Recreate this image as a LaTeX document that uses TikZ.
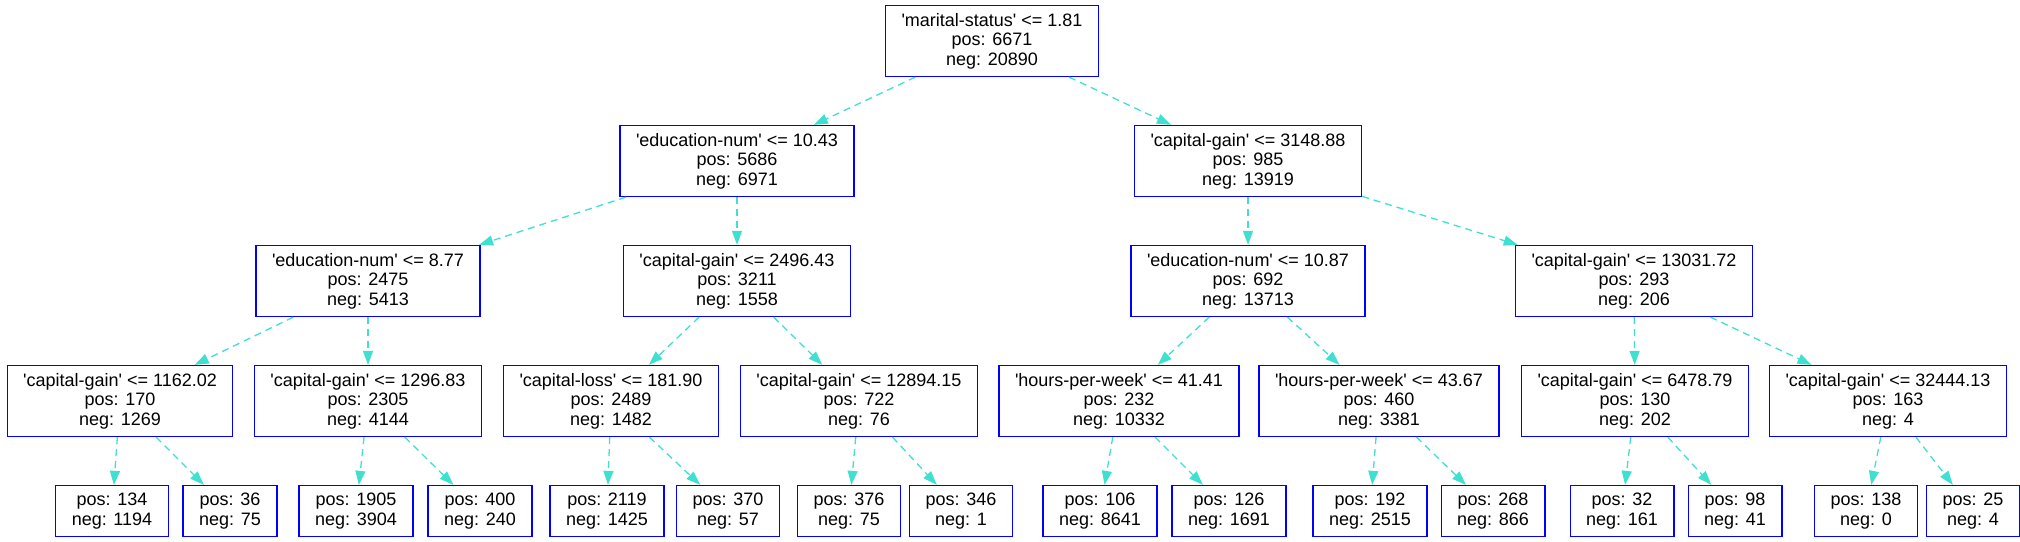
\documentclass[tikz,border=0pt]{standalone}
\usepackage{fontspec}
\setmainfont{Liberation Sans}
\usetikzlibrary{arrows.meta,positioning}
\definecolor{turq}{HTML}{40E0D0}
\newcommand{\attr}[1]{\textquotesingle#1\textquotesingle}

\begin{document}
\begin{tikzpicture}[x=1pt, y=1pt, node distance=120pt, >={Triangle[length=14pt,width=10pt]}]
        \tikzstyle{split} = [draw=blue, line width=1.3pt, rectangle, align=center, minimum height=71pt, inner xsep=16pt, font=\fontsize{18}{19.5}\selectfont]
        \tikzstyle{leaf} = [split, minimum height=51pt]
        \tikzstyle{edge} = [->, draw=turq, line width=1.3pt, dash pattern=on 7pt off 5pt]

        \useasboundingbox (0,0) rectangle (2020,-541);

        \node [split] (marital) at (992,-41) {\attr{marital-status} <= 1.81\\pos: 6671\\neg: 20890};

        \node [split, below of=marital, xshift=-255pt] (edu1043) {\attr{education-num} <= 10.43\\pos: 5686\\neg: 6971};
        \node [split, below of=marital, xshift=256pt] (gain3148) {\attr{capital-gain} <= 3148.88\\pos: 985\\neg: 13919};

        \node [split, below of=edu1043, xshift=-369pt] (edu877) {\attr{education-num} <= 8.77\\pos: 2475\\neg: 5413};
        \node [split, below of=edu1043] (gain2496) {\attr{capital-gain} <= 2496.43\\pos: 3211\\neg: 1558};
        \node [split, below of=gain3148] (edu1087) {\attr{education-num} <= 10.87\\pos: 692\\neg: 13713};
        \node [split, below of=gain3148, xshift=386pt] (gain13031) {\attr{capital-gain} <= 13031.72\\pos: 293\\neg: 206};

        \node [split, below of=edu877, xshift=-248pt] (gain1162) {\attr{capital-gain} <= 1162.02\\pos: 170\\neg: 1269};
        \node [split, below of=edu877] (gain1296) {\attr{capital-gain} <= 1296.83\\pos: 2305\\neg: 4144};
        \node [split, below of=gain2496, xshift=-126pt] (loss181) {\attr{capital-loss} <= 181.90\\pos: 2489\\neg: 1482};
        \node [split, below of=gain2496, xshift=122pt] (gain12894) {\attr{capital-gain} <= 12894.15\\pos: 722\\neg: 76};
        \node [split, below of=edu1087, xshift=-129pt] (hours41) {\attr{hours-per-week} <= 41.41\\pos: 232\\neg: 10332};
        \node [split, below of=edu1087, xshift=131pt] (hours43) {\attr{hours-per-week} <= 43.67\\pos: 460\\neg: 3381};
        \node [split, below of=gain13031, xshift=1pt] (gain6478) {\attr{capital-gain} <= 6478.79\\pos: 130\\neg: 202};
        \node [split, below of=gain13031, xshift=254pt] (gain32444) {\attr{capital-gain} <= 32444.13\\pos: 163\\neg: 4};

        \node [leaf, below of=gain1162, xshift=-8pt, node distance=110pt] (gain1162l) {pos: 134\\neg: 1194};
        \node [leaf, below of=gain1162, xshift=110pt, node distance=110pt] (gain1162r) {pos: 36\\neg: 75};
        \node [leaf, below of=gain1296, xshift=-12pt, node distance=110pt] (gain1296l) {pos: 1905\\neg: 3904};
        \node [leaf, below of=gain1296, xshift=112pt, node distance=110pt] (gain1296r) {pos: 400\\neg: 240};
        \node [leaf, below of=loss181, xshift=-4pt, node distance=110pt] (loss181l) {pos: 2119\\neg: 1425};
        \node [leaf, below of=loss181, xshift=117pt, node distance=110pt] (loss181r) {pos: 370\\neg: 57};
        \node [leaf, below of=gain12894, xshift=-10pt, node distance=110pt] (gain12894l) {pos: 376\\neg: 75};
        \node [leaf, below of=gain12894, xshift=102pt, node distance=110pt] (gain12894r) {pos: 346\\neg: 1};
        \node [leaf, below of=hours41, xshift=-19pt, node distance=110pt] (hours41l) {pos: 106\\neg: 8641};
        \node [leaf, below of=hours41, xshift=110pt, node distance=110pt] (hours41r) {pos: 126\\neg: 1691};
        \node [leaf, below of=hours43, xshift=-9pt, node distance=110pt] (hours43l) {pos: 192\\neg: 2515};
        \node [leaf, below of=hours43, xshift=114pt, node distance=110pt] (hours43r) {pos: 268\\neg: 866};
        \node [leaf, below of=gain6478, xshift=-13pt, node distance=110pt] (gain6478l) {pos: 32\\neg: 161};
        \node [leaf, below of=gain6478, xshift=100pt, node distance=110pt] (gain6478r) {pos: 98\\neg: 41};
        \node [leaf, below of=gain32444, xshift=-22pt, node distance=110pt] (gain32444l) {pos: 138\\neg: 0};
        \node [leaf, below of=gain32444, xshift=85pt, node distance=110pt] (gain32444r) {pos: 25\\neg: 4};

        \draw [edge] (marital) -- (edu1043);
        \draw [edge] (marital) -- (gain3148);
        \draw [edge] (edu1043) -- (edu877);
        \draw [edge] (edu1043) -- (gain2496);
        \draw [edge] (gain3148) -- (edu1087);
        \draw [edge] (gain3148) -- (gain13031);
        \draw [edge] (edu877) -- (gain1162);
        \draw [edge] (edu877) -- (gain1296);
        \draw [edge] (gain2496) -- (loss181);
        \draw [edge] (gain2496) -- (gain12894);
        \draw [edge] (edu1087) -- (hours41);
        \draw [edge] (edu1087) -- (hours43);
        \draw [edge] (gain13031) -- (gain6478);
        \draw [edge] (gain13031) -- (gain32444);
        \draw [edge] (gain1162) -- (gain1162l);
        \draw [edge] (gain1162) -- (gain1162r);
        \draw [edge] (gain1296) -- (gain1296l);
        \draw [edge] (gain1296) -- (gain1296r);
        \draw [edge] (loss181) -- (loss181l);
        \draw [edge] (loss181) -- (loss181r);
        \draw [edge] (gain12894) -- (gain12894l);
        \draw [edge] (gain12894) -- (gain12894r);
        \draw [edge] (hours41) -- (hours41l);
        \draw [edge] (hours41) -- (hours41r);
        \draw [edge] (hours43) -- (hours43l);
        \draw [edge] (hours43) -- (hours43r);
        \draw [edge] (gain6478) -- (gain6478l);
        \draw [edge] (gain6478) -- (gain6478r);
        \draw [edge] (gain32444) -- (gain32444l);
        \draw [edge] (gain32444) -- (gain32444r);
    \end{tikzpicture}
\end{document}
